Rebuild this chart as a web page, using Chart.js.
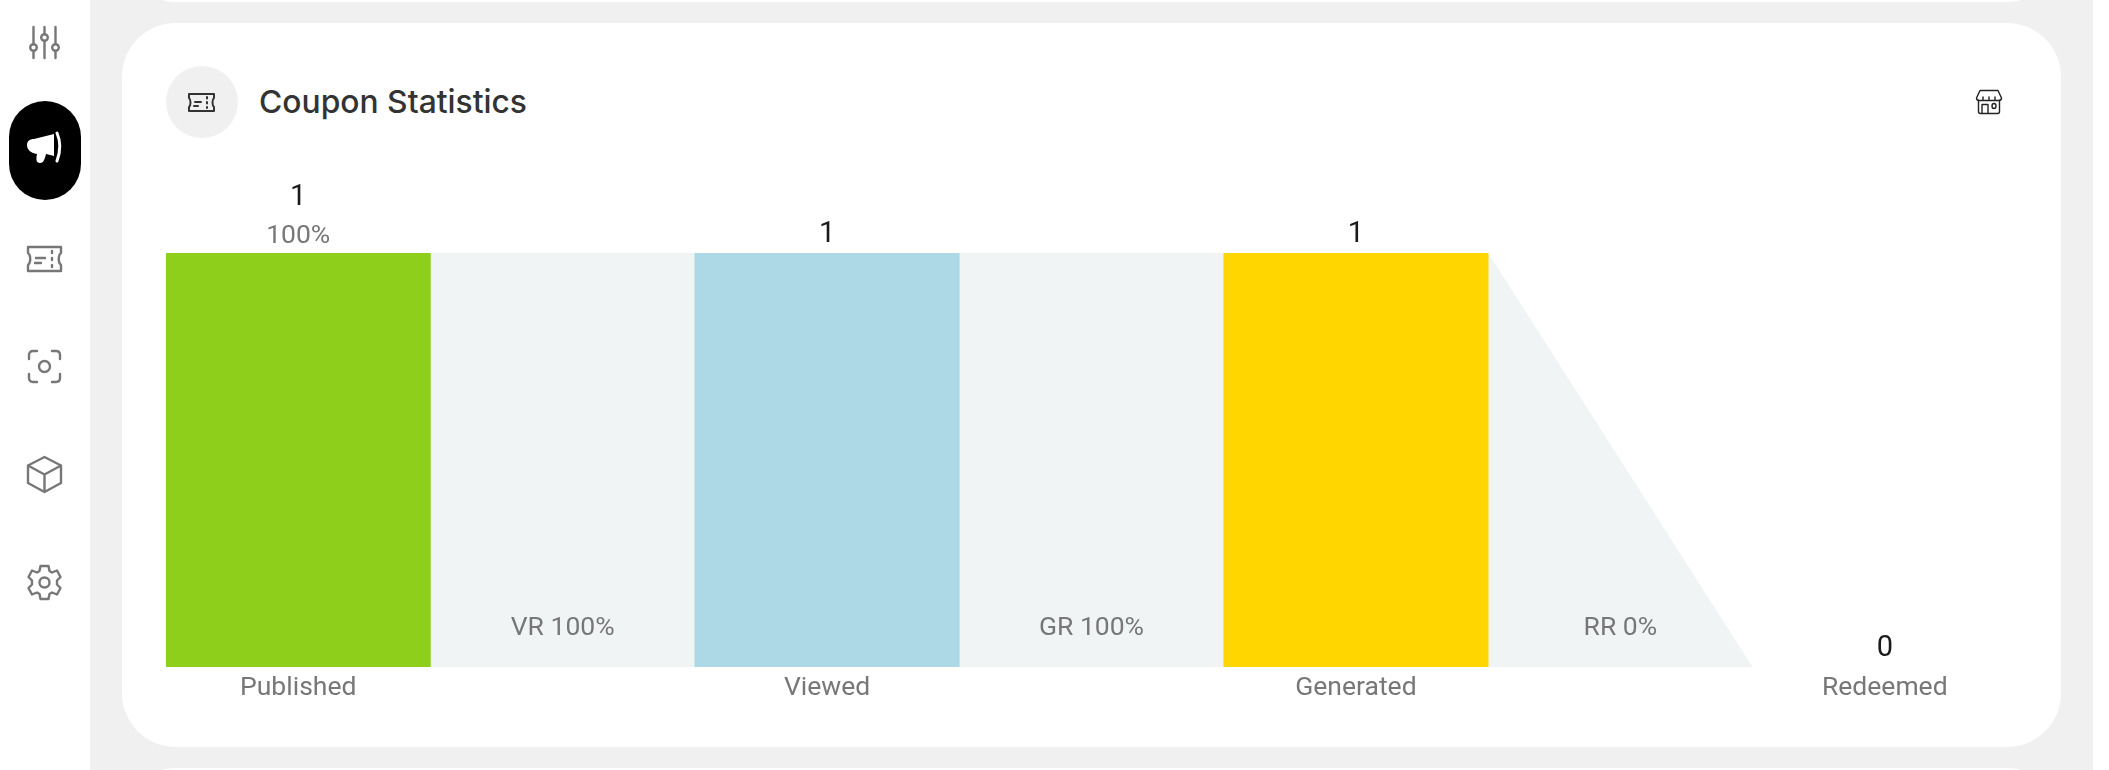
<!DOCTYPE html>
<html>
<head>
<meta charset="utf-8">
<title>Coupon Statistics</title>
<script src="https://cdn.jsdelivr.net/npm/chart.js@4/dist/chart.umd.min.js"></script>
<style>
html, body { margin: 0; padding: 0; background: #fff; }
body { position: relative; width: 2109px; height: 770px; overflow: hidden; font-family: Inter, sans-serif; }
.main { position: absolute; left: 90px; top: 0; width: 2003px; height: 770px; background: #f0f0f0; }
.card { position: absolute; left: 122px; width: 1939px; background: #fff; border-radius: 54px; box-sizing: border-box; }
.card.top { top: -200px; height: 202px; }
.card.main-card { top: 23px; height: 724px; }
.card.next { top: 768px; height: 200px; }
.pill { position: absolute; left: 9px; top: 101px; width: 72px; height: 99px; background: #000; border-radius: 36px; }
.badge { position: absolute; left: 166px; top: 66px; width: 72px; height: 72px; border-radius: 50%; background: #f0f0f0; }
h1 { position: absolute; left: 259px; top: 82px; margin: 0; font: 500 31.800px/40px Inter, sans-serif; color: #333; }
svg.ic { position: absolute; fill: none; stroke-linecap: round; stroke-linejoin: round; }
canvas { position: absolute; left: 122px; top: 130px; }
</style>
</head>
<body>
<div class="main"></div>
<div class="card top"></div>
<div class="card main-card"></div>
<div class="card next"></div>
<div class="pill"></div>
<div class="badge"></div>
<h1>Coupon Statistics</h1>

<!-- sidebar icons -->
<svg class="ic" style="left:28px;top:25px" width="33" height="35" viewBox="0 0 33 35" stroke="#777" stroke-width="2.4">
  <path d="M5.500 2v17M5.500 26v7M16.500 2v7M16.500 16v17M27.500 2v17M27.500 26v7"/>
  <circle cx="5.500" cy="22.500" r="3.300"/><circle cx="16.500" cy="12.500" r="3.300"/><circle cx="27.500" cy="22.500" r="3.300"/>
</svg>
<svg class="ic" style="left:24px;top:130px" width="42" height="40" viewBox="0 0 42 40">
  <path d="M10 9 L30 4 V26 L22 24 C21 28 20 33 16 33 C12 33 12 29 13 24 C6 23 3 19 3 15 C3 11 6 9 10 9Z" fill="#fff"/>
  <path d="M33 3 C37 12 37 20 33 31" stroke="#fff" stroke-width="3"/>
</svg>
<svg class="ic" style="left:25px;top:244px" width="39" height="30" viewBox="0 0 39 30" stroke="#777" stroke-width="2.4">
  <path d="M3 3H36V9C33 11 33 19 36 21V27H3V21C6 19 6 11 3 9Z"/>
  <path d="M27 7v2M27 14v2M27 21v2M11 14H20M10 19H16"/>
</svg>
<svg class="ic" style="left:27px;top:349px" width="35" height="35" viewBox="0 0 35 35" stroke="#777" stroke-width="2.4">
  <path d="M2 10V6C2 3.500 3.500 2 6 2H10M25 2H29C31.500 2 33 3.500 33 6V10M33 25V29C33 31.500 31.500 33 29 33H25M10 33H6C3.500 33 2 31.500 2 29V25"/>
  <circle cx="17.500" cy="17.500" r="5.500"/>
</svg>
<svg class="ic" style="left:26px;top:455px" width="37" height="39" viewBox="0 0 37 39" stroke="#777" stroke-width="2.4">
  <path d="M18.500 2L35 10.500V28L18.500 37L2 28V10.500ZM2 10.500L18.500 19.500L35 10.500M18.500 19.500V37"/>
</svg>
<svg class="ic" style="left:27px;top:564px" width="35" height="37" viewBox="0 0 35 37" stroke="#777" stroke-width="2.4">
  <path d="M13.500 2H21.500L22.500 7L25 8.500L30 6.500L33.500 13L30 16.500V20.500L33.500 24L30 30.500L25 28.500L22.500 30L21.500 35H13.500L12.500 30L10 28.500L5 30.500L1.500 24L5 20.500V16.500L1.500 13L5 6.500L10 8.500L12.500 7Z"/>
  <circle cx="17.500" cy="18.500" r="5"/>
</svg>
<!-- header icons -->
<svg class="ic" style="left:187px;top:92px" width="29" height="21" viewBox="0 0 29 21" stroke="#333" stroke-width="2">
  <path d="M2 2H27V6C25 7.500 25 13.500 27 15V19H2V15C4 13.500 4 7.500 2 6Z"/>
  <path d="M20 5v1.500M20 10v1.500M20 15v1M8 10H14M7 14H11"/>
</svg>
<svg class="ic" style="left:1975px;top:89px" width="28" height="26" viewBox="0 0 28 26" stroke="#222" stroke-width="1.400">
  <path d="M5 1.500H23L26.500 9C26.500 11 25 11.500 23.500 11.500H4.500C3 11.500 1.500 11 1.500 9Z"/>
  <path d="M8 8v3M14 8v3M20 8v3M3.500 11.500V22.500C3.500 24 4.500 24.500 5.500 24.500H22.500C23.500 24.500 24.500 24 24.500 22.500V11.500M7 24.500V15.500H13V24.500"/>
  <ellipse cx="19" cy="17" rx="2" ry="2.500"/>
</svg>

<canvas id="funnel"></canvas>

<script>
const CATEGORIES = ["Published", "", "Viewed", "", "Generated", "", "Redeemed"];
const COUNTS = [1, null, 1, null, 1, null, 0];
const BAR_COLORS = ["#8ecf1c", "transparent", "#add8e6", "transparent", "#ffd600", "transparent", "transparent"];
const COUNT_LABELS = ["1", "", "1", "", "1", "", "0"];
const PERCENT_LABELS = ["100%", "", "", "", "", "", ""];
const RATE_LABELS = ["", "VR 100%", "", "GR 100%", "", "RR 0%", ""];

// funnel band behind the bars, x is the category position
const BAND_X = [0.5, 1.5, 2.5, 3.5, 4.5, 5.5];
const BAND_Y = [1, 1, 1, 1, 1, 0];

const LABEL_FONT = "Roboto, sans-serif";

////////////////////////////////////////////////////////////////////////////////
// labels over the bars and in the gaps
////////////////////////////////////////////////////////////////////////////////
const funnelLabels = {
    id: "funnelLabels",
    afterDatasetsDraw(chart) {
        const ctx = chart.ctx;
        const xs = chart.scales.x;
        const ys = chart.scales.y;
        ctx.save();
        ctx.textAlign = "center";
        ctx.textBaseline = "middle";
        CATEGORIES.forEach((c, i) => {
            const x = xs.getPixelForValue(i);
            if (COUNTS[i] !== null) {
                const top = ys.getPixelForValue(COUNTS[i]);
                const lift = PERCENT_LABELS[i] ? 55 : 18;
                ctx.fillStyle = "#1a1a1a";
                ctx.font = "29px " + LABEL_FONT;
                ctx.fillText(COUNT_LABELS[i], x, top - lift);
                if (PERCENT_LABELS[i]) {
                    ctx.fillStyle = "#777";
                    ctx.font = "26.5px " + LABEL_FONT;
                    ctx.fillText(PERCENT_LABELS[i], x, top - 17);
                }
            }
            if (RATE_LABELS[i]) {
                ctx.fillStyle = "#777";
                ctx.font = "26.5px " + LABEL_FONT;
                ctx.fillText(RATE_LABELS[i], x, ys.getPixelForValue(0) - 39);
            }
        });
        ctx.restore();
    },
};

////////////////////////////////////////////////////////////////////////////////
// chart
////////////////////////////////////////////////////////////////////////////////
const canvas = document.querySelector("#funnel");
canvas.width = 1939;
canvas.height = 610;
canvas.style.width = "1939px";
canvas.style.height = "610px";

new Chart(canvas, {
    data: {
        labels: CATEGORIES,
        datasets: [
            {
                type: "bar",
                data: COUNTS,
                backgroundColor: BAR_COLORS,
                barPercentage: 1,
                categoryPercentage: 1,
                borderWidth: 0,
                order: 1,
            },
            {
                // parsing off so the fractional x stays between two categories
                type: "line",
                parsing: false,
                normalized: true,
                data: BAND_X.map((x, i) => ({ x: x, y: BAND_Y[i] })),
                backgroundColor: "#f0f4f5",
                borderWidth: 0,
                pointRadius: 0,
                tension: 0,
                fill: "origin",
                order: 2,
            },
        ],
    },
    options: {
        responsive: false,
        animation: false,
        devicePixelRatio: 1,
        layout: { padding: { left: 44, right: 44, top: 123, bottom: 0 } },
        plugins: { legend: { display: false }, tooltip: { enabled: false } },
        scales: {
            x: {
                grid: { display: false },
                border: { display: false },
                ticks: {
                    color: "#777",
                    font: { family: LABEL_FONT, size: 26.5 },
                    padding: -3,
                    autoSkip: false,
                    maxRotation: 0,
                },
                afterFit: (scale) => { scale.height = 73; },
            },
            y: { display: false, min: 0, max: 1 },
        },
    },
    plugins: [funnelLabels],
});
</script>
</body>
</html>
